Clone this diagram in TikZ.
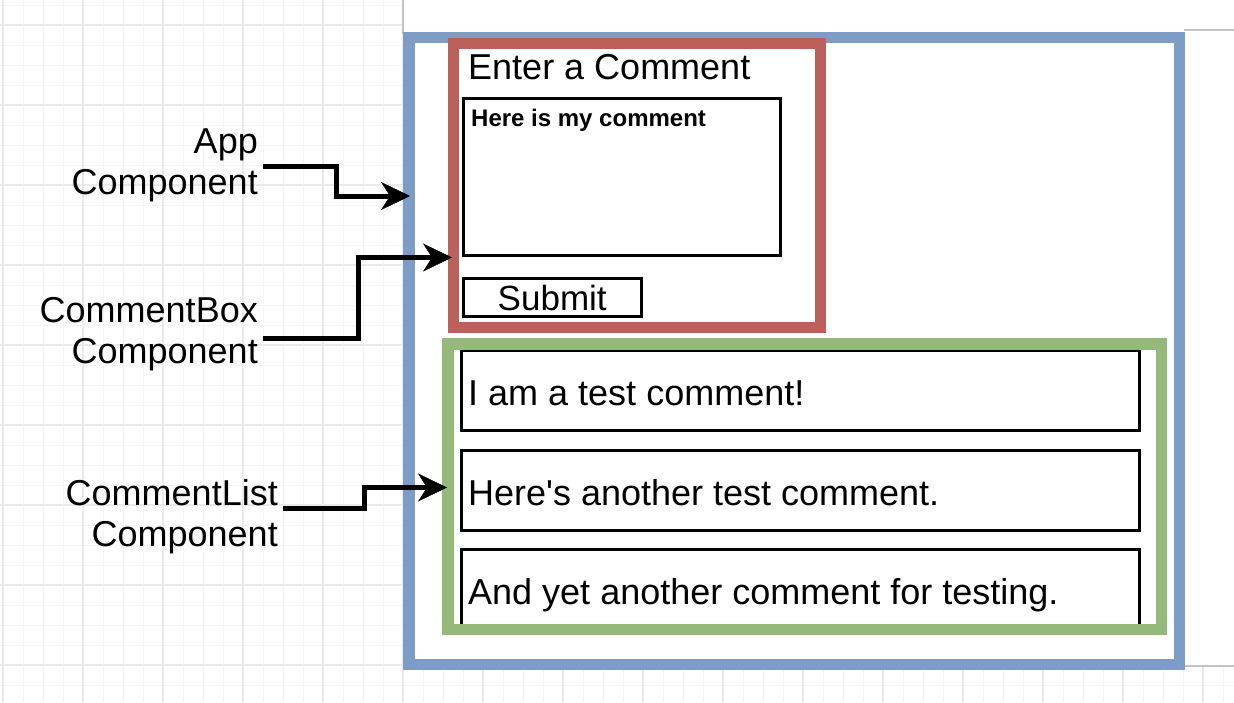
\documentclass[tikz,border=0pt]{standalone}
\usepackage{fontspec}
\setmainfont{Liberation Sans}[Ligatures=TeXOff]
\usetikzlibrary{arrows.meta}
\definecolor{appblue}{HTML}{7D9DC6}
\definecolor{boxred}{HTML}{BC605C}
\definecolor{listgreen}{HTML}{94B97A}
\definecolor{gridminor}{HTML}{F5F5F5}
\definecolor{gridmajor}{HTML}{EAEAEA}
\definecolor{pageline}{HTML}{C4C4C4}
\begin{document}
\begin{tikzpicture}[x=1pt,y=-1pt,
  big/.style={font=\fontsize{36}{41}\selectfont},
  lbl/.style={big, align=right, inner sep=0pt, anchor=east},
  txt/.style={big, inner sep=0pt, anchor=base west},
  ctl/.style={draw=black, line width=3pt, inner sep=0pt},
  frame/.style={line width=11.5pt, inner sep=0pt},
  conn/.style={line width=5pt, -{Stealth[length=29pt, width=28pt, inset=9pt, line width=0.5pt]}}]
\useasboundingbox (0,0) rectangle (1234,702);
\fill[white] (0,0) rectangle (1234,702);
% grid
\foreach \x in {3,23,...,1233} \draw[gridminor, line width=1pt] (\x,0) -- (\x,702);
\foreach \y in {5,25,...,701} \draw[gridminor, line width=1pt] (0,\y) -- (1234,\y);
\foreach \x in {3,83,...,1233} \draw[gridmajor, line width=1.2pt] (\x,0) -- (\x,702);
\foreach \y in {25,105,...,701} \draw[gridmajor, line width=1.2pt] (0,\y) -- (1234,\y);
% page
\fill[white] (403,0) rectangle (1234,666);
\draw[pageline, line width=1.5pt] (403,0) -- (403,34);
\draw[pageline, line width=1.5pt] (1184,30) -- (1234,30);
\draw[pageline, line width=1.5pt] (1184,666) -- (1234,666);
% frames
\node[frame, draw=appblue, minimum width=770.5pt, minimum height=627pt] (appbox) at (794,350.75) {};
\node[frame, draw=boxred, line width=11pt, minimum width=367pt, minimum height=283.7pt] (cbox) at (637,185.6) {};
% comment box contents
\node[txt, anchor=base west] (title) at (468,79) {Enter a Comment};
\node[ctl, minimum width=317pt, minimum height=157pt] (area) at (621.7,177.3) {};
\node[font=\fontsize{24}{28}\selectfont\bfseries, inner sep=0pt, anchor=base west] (areatext) at (471,126.5) {Here is my comment};
\node[ctl, font=\fontsize{35}{41}\selectfont, minimum width=178pt, minimum height=38.6pt] (submit) at (552.2,297.5) {Submit};
% comment list
\node[ctl, minimum width=678pt, minimum height=80pt] (c1) at (800.5,390.5) {};
\node[ctl, minimum width=678pt, minimum height=80pt] (c2) at (800.5,490) {};
\node[ctl, minimum width=678pt, minimum height=80pt] (c3) at (800.5,589.5) {};
\node[txt] (t1) at (468,405) {I am a test comment!};
\node[txt] (t2) at (468,505) {Here's another test comment.};
\node[txt] (t3) at (468,604) {And yet another comment for testing.};
\node[frame, draw=listgreen, minimum width=713.5pt, minimum height=285.5pt] (clist) at (804.5,486.5) {};
% labels
\node[lbl] (lapp) at (258,165.7) {App\\Component};
\node[lbl] (lcbox) at (258,334.5) {CommentBox\\Component};
\node[lbl] (llist) at (278,516.5) {CommentList\\Component};
% arrow targets
\coordinate (tapp) at (410,196);
\coordinate (tcbox) at (452,257.5);
\coordinate (tlist) at (447,487.5);
% connectors
\draw[conn] ([xshift=5pt,yshift=-0.3pt]lapp.east) -- ++(73,0) |- (tapp);
\draw[conn] ([xshift=5pt,yshift=-3.5pt]lcbox.east) -- ++(95,0) |- (tcbox);
\draw[conn] ([xshift=5pt,yshift=8.5pt]llist.east) -- ++(81,0) |- (tlist);
\end{tikzpicture}
\end{document}
